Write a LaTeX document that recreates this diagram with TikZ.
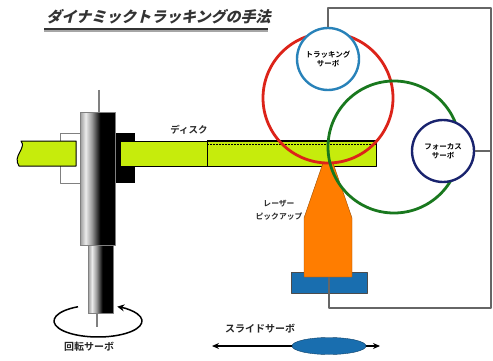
\documentclass[tikz,border=0pt]{standalone}
\usepackage{fontspec}
\newfontfamily\jp{Noto Sans CJK JP}[BoldFont={Noto Sans CJK JP Bold}]
\newfontfamily\jpheavy{Noto Sans CJK JP Black}
\usetikzlibrary{arrows.meta,shapes.geometric}
\definecolor{discgreen}{RGB}{198,236,12}
\definecolor{trackred}{RGB}{220,35,25}
\definecolor{focusgreen}{RGB}{25,120,30}
\definecolor{trkblue}{RGB}{40,130,185}
\definecolor{focnavy}{RGB}{25,35,110}
\definecolor{pickorange}{RGB}{255,125,0}
\definecolor{baseblue}{RGB}{25,110,175}
\pgfdeclarehorizontalshading{spindle}{100bp}{color(0bp)=(gray!80); color(25bp)=(gray!80); color(33bp)=(white!85!gray); color(42bp)=(gray!80); color(50bp)=(gray!40!black); color(54bp)=(black); color(100bp)=(black)}
\tikzset{
  servo/.style={circle, draw, fill=white, line width=2.4, minimum size=62, inner sep=0, align=center, font=\jp\bfseries\fontsize{7.5}{9}\selectfont},
  wire/.style={draw=black!60, line width=1.2},
  tag/.style={font=\jp\bfseries\fontsize{9.5}{11}\selectfont, text=black!85, inner sep=0},
  ring/.style={line width=2.8},
}
\begin{document}
\begin{tikzpicture}[x=1pt, y=-1pt, line join=round, >=Stealth]
	\useasboundingbox (0,0) rectangle (493,361);
	\def\dtop{141}\def\dbot{166}
	% title
	\node[font=\jpheavy\fontsize{15}{15}\selectfont, text=black!80, xslant=0.25, transform shape, inner sep=0] (title) at (160,17) {ダイナミックトラッキングの手法};
	\draw[black!35, line width=2] (44,31.5)--(268,31.5);
	\draw[black!80, line width=1.8] (44,29)--(268,29);
	
	% clamp and disc
	\draw[fill=white, draw=gray] (60,133) rectangle (82,183);
	\fill[black] (113,133) rectangle (135,183);
	\draw[fill=discgreen, line width=1] (21,\dtop) .. controls (27,148) and (12,156) .. (19,\dbot)--(76,\dbot)--(76,\dtop)--cycle;
	\draw[fill=discgreen, line width=1] (120,\dtop) rectangle (376,\dbot);
	\draw (207,\dtop)--(207,\dbot);
	\draw[dash pattern=on 2pt off 1pt] (207,144.5)--(376,144.5);
	\draw[line width=1.6] (207,\dtop)--(376,\dtop);
	\node[tag] (disclabel) at (189,130) {ディスク};
	
	% spindle motor
	\draw[gray, line width=1.5] (99,90)--(99,112) (97,313)--(97,327);
	\shade[shading=spindle, draw=black!50] (80,112) rectangle (115,245);
	\shade[shading=spindle, draw=black!50] (88,245) rectangle (113,313);
	\draw[line width=1.5, -{Stealth[length=7,width=7]}] (98,321) ++(243:44 and 16) arc[start angle=243, end angle=-64, x radius=44, y radius=16];
	\node[tag, font=\jp\bfseries\fontsize{10}{11}\selectfont] (rotlabel) at (89,347) {回転サーボ};
	
	% pickup on its sled
	\node[draw=black!70, fill=baseblue, minimum width=76, minimum height=21, inner sep=0] (base) at (329,282.5) {};
	\draw[fill=pickorange, draw=orange!60!black, thin] (323,163)--(333,163)--(352,218)--(352,277)--(304,277)--(304,218)--cycle;
	\node[tag, font=\jp\bfseries\fontsize{7.8}{13}\selectfont, align=center] (pulabel) at (279,210) {レーザー\\ピックアップ};
	
	% servo loops
	\draw[ring, trackred] (328,98) circle[radius=65];
	\draw[ring, focusgreen] (394,147) circle[radius=66];
	\node[servo, draw=trkblue] (tracking) at (328,59) {トラッキング\\サーボ};
	\node[servo, draw=focnavy] (focus) at (443,151) {フォーカス\\サーボ};
	\coordinate (wireNE) at (491,8);
	\coordinate (wireSE) at (491,308);
	\draw[wire] (tracking.north) |- (wireNE)--(wireSE) -| ([yshift=-5pt]base.north);
	\draw[wire] (focus.east)--(focus.east -| wireNE);
	
	% slide servo
	\coordinate (slideL) at (212,346);
	\coordinate (slideR) at (380,346);
	\draw[line width=1.5, {Stealth[length=7,width=6]}-{Stealth[length=7,width=6]}] (slideL)--(slideR);
	\node[ellipse, draw=baseblue!60!black, fill=baseblue, minimum width=74, minimum height=17, inner sep=0] (slider) at (329,346) {};
	\node[tag, font=\jp\bfseries\fontsize{10}{11}\selectfont] (slidelabel) at (260,329) {スライドサーボ};
\end{tikzpicture}
\end{document}
